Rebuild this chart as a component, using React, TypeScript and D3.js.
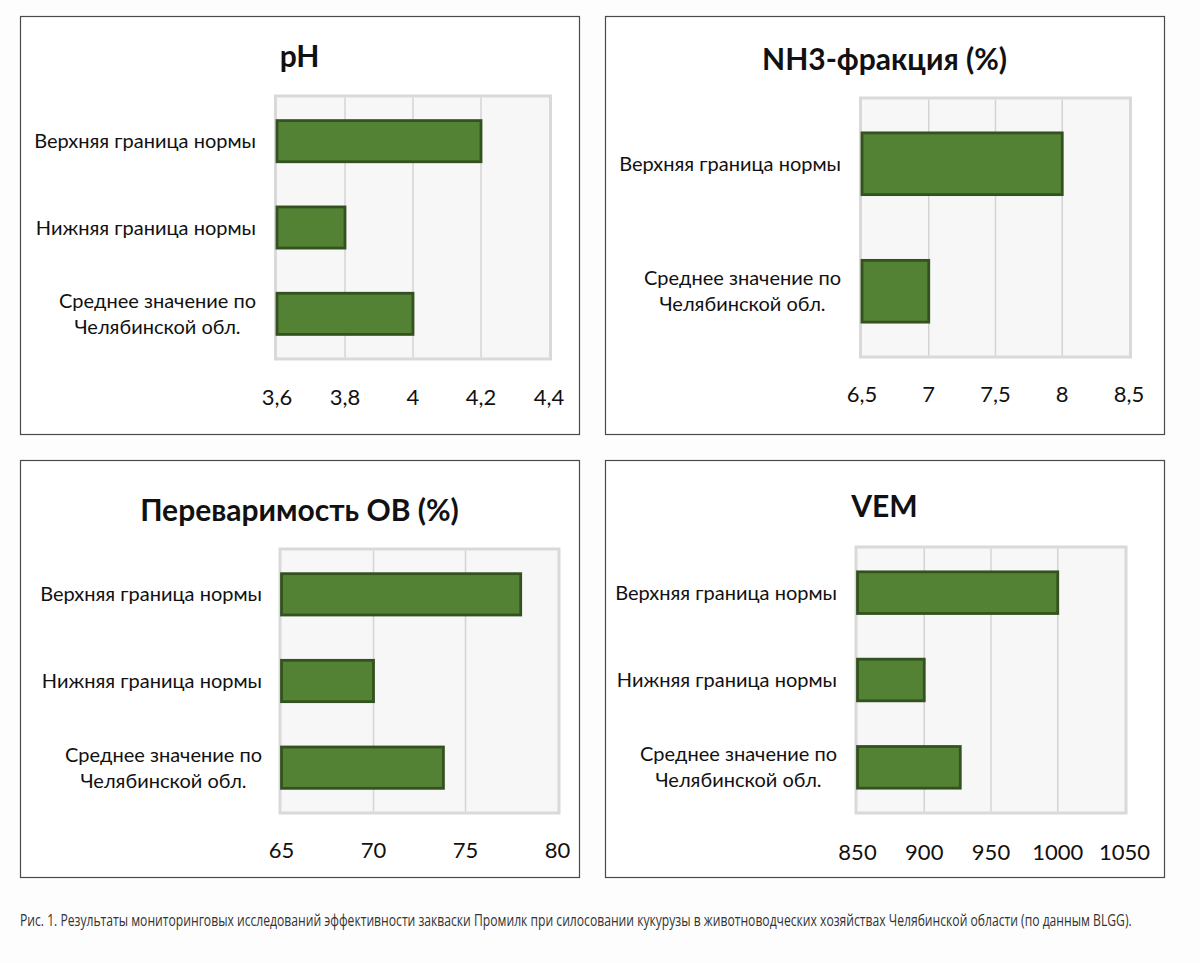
import { useEffect, useRef } from 'react';
import * as d3 from 'd3';

// --- data ---
const phCategories = ['Верхняя граница нормы', 'Нижняя граница нормы', 'Среднее значение по\nЧелябинской обл.'];
const phValues = [4.2, 3.8, 4.0];
const phTicks = [3.6, 3.8, 4.0, 4.2, 4.4];

const nh3Categories = ['Верхняя граница нормы', 'Среднее значение по\nЧелябинской обл.'];
const nh3Values = [8, 7];
const nh3Ticks = [6.5, 7, 7.5, 8, 8.5];

const ovCategories = ['Верхняя граница нормы', 'Нижняя граница нормы', 'Среднее значение по\nЧелябинской обл.'];
const ovValues = [78, 70, 73.8];
const ovTicks = [65, 70, 75, 80];

const vemCategories = ['Верхняя граница нормы', 'Нижняя граница нормы', 'Среднее значение по\nЧелябинской обл.'];
const vemValues = [1000, 900, 927];
const vemTicks = [850, 900, 950, 1000, 1050];

const caption =
  'Рис. 1. Результаты мониторинговых исследований эффективности закваски Промилк при силосовании кукурузы в животноводческих хозяйствах Челябинской области (по данным BLGG).';

interface PanelSpec {
  title: string;
  categories: string[];
  values: number[];
  ticks: number[];
  box: [number, number, number, number]; // x0, y0, x1, y1
  xRange: [number, number];
  yRange: [number, number];
  labelRight: number;
  titleY: number;
  tickY: number;
}

const panels: PanelSpec[] = [
  {
    title: 'pH',
    categories: phCategories,
    values: phValues,
    ticks: phTicks,
    box: [20, 16, 579, 434],
    xRange: [277, 549],
    yRange: [96, 359],
    labelRight: 256,
    titleY: 67,
    tickY: 405,
  },
  {
    title: 'NH3-фракция (%)',
    categories: nh3Categories,
    values: nh3Values,
    ticks: nh3Ticks,
    box: [605, 16, 1164, 434],
    xRange: [862, 1129],
    yRange: [98, 357],
    labelRight: 841,
    titleY: 70,
    tickY: 402,
  },
  {
    title: 'Переваримость ОВ (%)',
    categories: ovCategories,
    values: ovValues,
    ticks: ovTicks,
    box: [20, 460, 579, 877],
    xRange: [281.5, 557.5],
    yRange: [549, 813],
    labelRight: 262,
    titleY: 521,
    tickY: 858,
  },
  {
    title: 'VEM',
    categories: vemCategories,
    values: vemValues,
    ticks: vemTicks,
    box: [605, 460, 1164, 877],
    xRange: [857.5, 1124.5],
    yRange: [547, 813],
    labelRight: 837,
    titleY: 517,
    tickY: 860,
  },
];

const FONT = 'Lato, "Open Sans", sans-serif';
const LABEL_SIZE = 20;
const fmt = (v: number) => String(v).replace('.', ',');

export default function App() {
  const svgRef = useRef<SVGSVGElement>(null);

  useEffect(() => {
    if (!svgRef.current) return;
    const svg = d3.select(svgRef.current);
    svg.selectAll('*').remove();

    svg.append('rect').attr('width', 1200).attr('height', 963).attr('fill', '#fdfdfd');

    panels.forEach((p) => {
      const g = svg.append('g');
      const [bx0, by0, bx1, by1] = p.box;

      // panel frame
      g.append('rect')
        .attr('x', bx0 + 0.5)
        .attr('y', by0 + 0.5)
        .attr('width', bx1 - bx0)
        .attr('height', by1 - by0)
        .attr('fill', '#ffffff')
        .attr('stroke', '#4a4a4a')
        .attr('stroke-width', 1.2);

      g.append('text')
        .attr('x', (bx0 + bx1) / 2)
        .attr('y', p.titleY)
        .attr('text-anchor', 'middle')
        .attr('font-family', FONT)
        .attr('font-weight', 'bold')
        .attr('font-size', 30)
        .attr('fill', '#111')
        .text(p.title);

      const x = d3.scaleLinear().domain([p.ticks[0], p.ticks[p.ticks.length - 1]]).range(p.xRange);
      const y = d3
        .scaleBand<string>()
        .domain(p.categories)
        .range([p.yRange[0] + 2, p.yRange[1] - 2])
        .paddingInner(0.5)
        .paddingOuter(0.25);

      // plot area
      g.append('rect')
        .attr('x', p.xRange[0] - 1.5)
        .attr('y', p.yRange[0])
        .attr('width', p.xRange[1] - p.xRange[0] + 3)
        .attr('height', p.yRange[1] - p.yRange[0])
        .attr('fill', '#f7f7f7')
        .attr('stroke', '#d9d9d9')
        .attr('stroke-width', 3);

      // gridlines
      g.selectAll('line.grid')
        .data(p.ticks.slice(1, -1))
        .join('line')
        .attr('class', 'grid')
        .attr('x1', (d) => x(d))
        .attr('x2', (d) => x(d))
        .attr('y1', p.yRange[0] + 1.5)
        .attr('y2', p.yRange[1] - 1.5)
        .attr('stroke', '#d4d4d4')
        .attr('stroke-width', 1.5);

      // bars
      g.selectAll('rect.bar')
        .data(p.categories.map((c, i) => ({ c, v: p.values[i] })))
        .join('rect')
        .attr('class', 'bar')
        .attr('x', x(p.ticks[0]))
        .attr('y', (d) => y(d.c)! + 1)
        .attr('width', (d) => x(d.v) - x(p.ticks[0]))
        .attr('height', y.bandwidth() - 2)
        .attr('fill', '#548235')
        .attr('stroke', '#34521f')
        .attr('stroke-width', 2.8);

      // category labels
      p.categories.forEach((c) => {
        const lines = c.split('\n');
        const cy = y(c)! + y.bandwidth() / 2;
        const t = g
          .append('text')
          .attr('font-family', FONT)
          .attr('font-size', LABEL_SIZE)
          .attr('fill', '#111');
        if (lines.length === 1) {
          t.attr('x', p.labelRight).attr('y', cy).attr('dy', '0.35em').attr('text-anchor', 'end').text(c);
        } else {
          const lh = 26;
          // Excel centres wrapped labels within the label block
          const probe = g.append('text').attr('font-family', FONT).attr('font-size', LABEL_SIZE).text(lines[0]);
          const w = (probe.node() as SVGTextElement).getComputedTextLength();
          probe.remove();
          t.attr('text-anchor', 'middle');
          lines.forEach((ln, i) => {
            t.append('tspan')
              .attr('x', p.labelRight - w / 2)
              .attr('y', cy + (i - (lines.length - 1) / 2) * lh)
              .attr('dy', '0.35em')
              .text(ln);
          });
        }
      });

      // tick labels
      g.selectAll('text.tick')
        .data(p.ticks)
        .join('text')
        .attr('class', 'tick')
        .attr('x', (d) => x(d))
        .attr('y', p.tickY)
        .attr('text-anchor', 'middle')
        .attr('font-family', FONT)
        .attr('font-size', 22)
        .attr('fill', '#111')
        .text((d) => fmt(d));
    });

    // caption: condensed to fit the width used in the figure
    const cap = svg
      .append('text')
      .attr('font-family', '"Open Sans", sans-serif')
      .attr('font-size', 16)
      .attr('fill', '#333')
      .text(caption);
    const natural = (cap.node() as SVGTextElement).getComputedTextLength();
    cap.attr('transform', `translate(20,926) scale(${1113 / natural},1)`);
  }, []);

  return (
    <svg
      ref={svgRef}
      width={1200}
      height={963}
      style={{ position: 'absolute', left: 0, top: 0, display: 'block' }}
    />
  );
}
